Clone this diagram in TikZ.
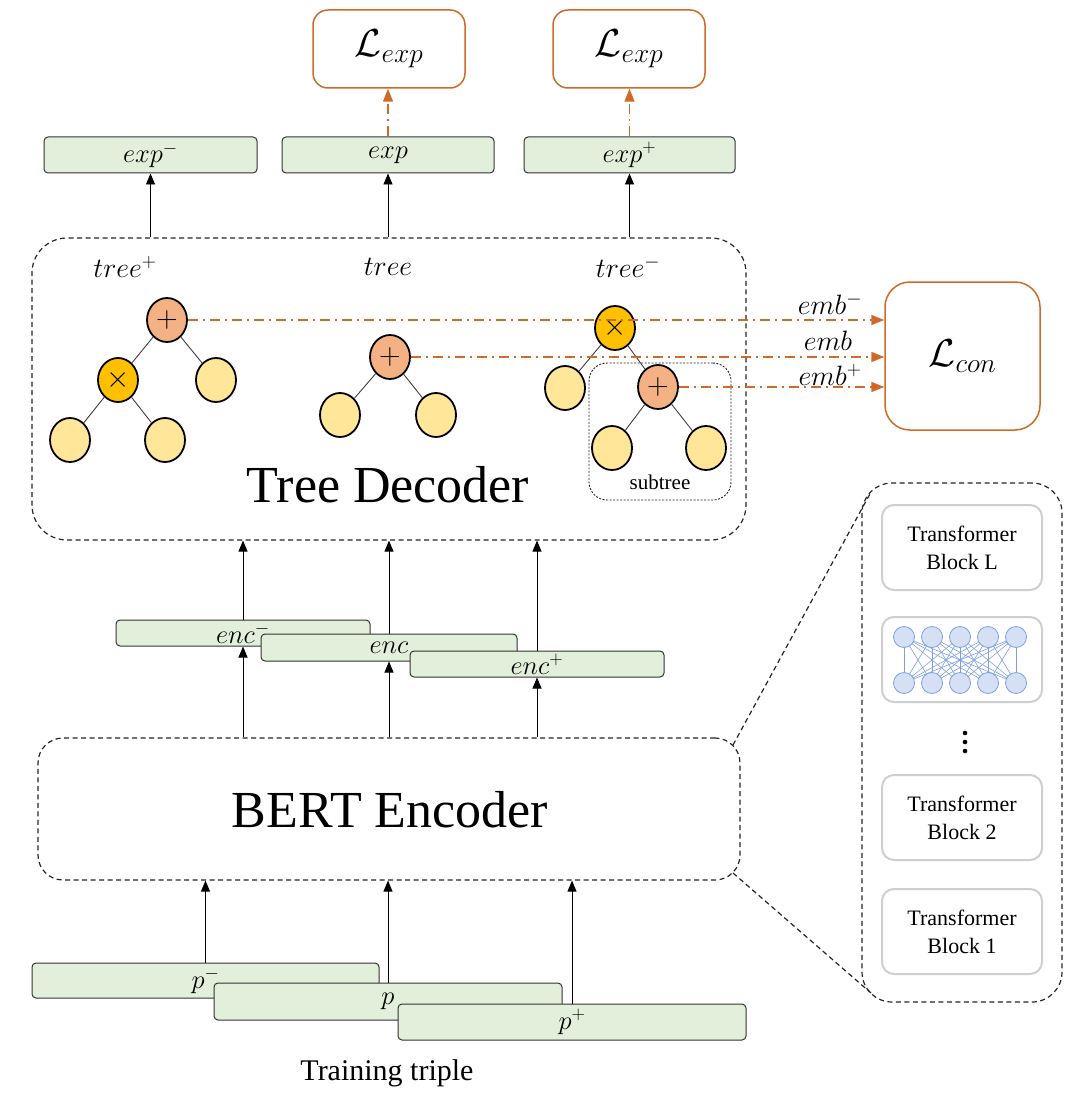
\RequirePackage{fix-cm}
\documentclass[tikz,border=0pt]{standalone}
\usepackage{fontspec}
\setmainfont{Liberation Serif}
\usetikzlibrary{shapes.geometric,arrows.meta}
\definecolor{org}{HTML}{D06A26}
\definecolor{gfill}{HTML}{E2EFDA}
\definecolor{salmon}{HTML}{F4B183}
\definecolor{gold}{HTML}{FFC000}
\definecolor{leaf}{HTML}{FFE699}
\definecolor{nnfill}{HTML}{D6E0F5}
\definecolor{nnline}{HTML}{7F9FE3}
\definecolor{blkgray}{HTML}{CFCFCF}
\begin{document}
\begin{tikzpicture}[x=1pt,y=-1pt,
  gbox/.style={draw=black!80, fill=gfill, rounded corners=4pt, line width=1pt, inner sep=0pt, font=\fontsize{26.5}{26.5}\selectfont},
  obox/.style={draw=org, fill=white, line width=1.5pt, inner sep=0pt, font=\fontsize{39}{39}\selectfont},
  dbox/.style={draw=black!85, line width=1.2pt, dash pattern=on 5pt off 3.5pt, inner sep=0pt},
  tbox/.style={draw=blkgray, fill=white, line width=2pt, rounded corners=12pt, minimum width=160pt, minimum height=85pt, inner sep=0pt, align=center, font=\fontsize{22}{28}\selectfont},
  arr/.style={-{Triangle[length=11pt,width=9pt]}, line width=0.9pt, draw=black},
  oarr/.style={draw=org, line width=1.5pt, dash pattern=on 10pt off 5pt on 2pt off 5pt, -{Triangle[length=13pt,width=10pt]}},
  mlab/.style={inner sep=0pt, font=\fontsize{28}{28}\selectfont},
  tn/.style={ellipse, draw=black, line width=1.8pt, minimum width=40pt, minimum height=44pt, inner sep=0pt, font=\fontsize{30}{30}\selectfont},
  opp/.style={tn, fill=salmon},
  opx/.style={tn, fill=gold},
  lf/.style={tn, fill=leaf},
  te/.style={draw=black!75, line width=0.9pt},
  nnc/.style={circle, draw=nnline, fill=nnfill, line width=0.8pt, minimum size=21pt, inner sep=0pt},
]
\useasboundingbox[fill=white] (0,0) rectangle (1080,1099);

% ---------- loss boxes ----------
\node[obox, rounded corners=15pt, minimum width=152pt, minimum height=78pt] (lexpa) at (389,49) {$\mathcal{L}_{exp}$};
\node[obox, rounded corners=15pt, minimum width=152pt, minimum height=78pt] (lexpb) at (629,49) {$\mathcal{L}_{exp}$};
\node[obox, rounded corners=25pt, minimum width=155pt, minimum height=148pt] (lcon) at (962.5,356) {$\mathcal{L}_{con}$};

% ---------- exp boxes ----------
\node[gbox, minimum width=213pt, minimum height=36pt] (expm) at (150.5,155) {$exp^-$};
\node[gbox, minimum width=212pt, minimum height=36pt] (expz) at (388,155) {$exp$};
\node[gbox, minimum width=211pt, minimum height=36pt] (expp) at (629.5,155) {$exp^+$};

% ---------- tree decoder ----------
\node[dbox, rounded corners=35pt, minimum width=714pt, minimum height=302pt] (td) at (389,389) {};
\node[inner sep=0pt, font=\fontsize{52}{52}\selectfont] (tdlab) at (388,485) {Tree Decoder};

\node[mlab] (tlp) at (125,267) {$tree^+$};
\node[mlab] (tlz) at (388,267) {$tree$};
\node[mlab] (tlm) at (628,267) {$tree^-$};

% subtree box
\node[draw=black!85, line width=0.9pt, dash pattern=on 2pt off 1.5pt, rounded corners=18pt, minimum width=142pt, minimum height=137pt, inner sep=0pt] (sub) at (660,431.5) {};
\node[inner sep=0pt, font=\fontsize{21}{21}\selectfont] (sublab) at (660,482) {subtree};

% tree 1
\node[opp] (a1) at (167,320) {$+$};
\node[opx] (a2) at (118,380) {$\times$};
\node[lf]  (a3) at (216,380) {};
\node[lf]  (a4) at (70,440) {};
\node[lf]  (a5) at (165,440) {};
\draw[te] (a1) -- (a2); \draw[te] (a1) -- (a3);
\draw[te] (a2) -- (a4); \draw[te] (a2) -- (a5);

% tree 2
\node[opp] (b1) at (390,357) {$+$};
\node[lf]  (b2) at (340,415) {};
\node[lf]  (b3) at (436,415) {};
\draw[te] (b1) -- (b2); \draw[te] (b1) -- (b3);

% tree 3
\node[opx] (c1) at (615,328) {$\times$};
\node[lf]  (c2) at (565,388) {};
\node[opp] (c3) at (658,387) {$+$};
\node[lf]  (c4) at (612,448) {};
\node[lf]  (c5) at (706,448) {};
\draw[te] (c1) -- (c2); \draw[te] (c1) -- (c3);
\draw[te] (c3) -- (c4); \draw[te] (c3) -- (c5);

% embedding arrows to L_con
\draw[oarr] (a1.east) -- (a1.east -| lcon.west);
\draw[oarr] (b1.east) -- (b1.east -| lcon.west);
\draw[oarr] (c3.east) -- (c3.east -| lcon.west);
\node[mlab] (em) at (830,304) {$emb^-$};
\node[mlab] (ez) at (828,341) {$emb$};
\node[mlab] (ep) at (830,375) {$emb^+$};

% decoder -> exp arrows
\draw[arr] (td.north -| expm) -- (expm.south);
\draw[arr] (td.north -| expz) -- (expz.south);
\draw[arr] (td.north -| expp) -- (expp.south);
\draw[oarr] (expz.north) -- (expz.north |- lexpa.south);
\draw[oarr] (expp.north) -- (expp.north |- lexpb.south);

% ---------- enc boxes ----------
\node[gbox, minimum width=254pt, minimum height=26pt] (encm) at (243,633) {$enc^-$};
\node[gbox, minimum width=256pt, minimum height=27pt] (encz) at (389,647.5) {$enc$};
\node[gbox, minimum width=254pt, minimum height=26pt] (encp) at (537,664) {$enc^+$};

% ---------- BERT encoder ----------
\node[dbox, rounded corners=25pt, minimum width=702pt, minimum height=142pt] (bert) at (389,809) {};
\node[inner sep=0pt, font=\fontsize{52}{52}\selectfont] (bertlab) at (390,810) {BERT Encoder};

\draw[arr] (bert.north -| encm) -- (encm.south);
\draw[arr] (bert.north -| encz) -- (encz.south);
\draw[arr] (bert.north -| encp) -- (encp.south);
\draw[arr] (encm.north) -- (encm.north |- td.south);
\draw[arr] (encz.north) -- (encz.north |- td.south);
\draw[arr] (encp.north) -- (encp.north |- td.south);

% ---------- training triple ----------
\node[gbox, minimum width=347pt, minimum height=35pt] (pm) at (205.5,980.5) {$p^-$};
\node[gbox, minimum width=348pt, minimum height=37pt] (pz) at (388,1001.5) {$p$};
\node[gbox, minimum width=348pt, minimum height=36pt] (pp) at (572,1022) {$p^+$};
\node[inner sep=0pt, font=\fontsize{30}{30}\selectfont] (trlab) at (387,1073) {Training triple};

\draw[arr] (pm.north) -- (pm.north |- bert.south);
\draw[arr] (pz.north) -- (pz.north |- bert.south);
\draw[arr] (pp.north) -- (pp.north |- bert.south);

% ---------- transformer panel ----------
\node[dbox, rounded corners=30pt, minimum width=200pt, minimum height=519pt] (panel) at (962,742.5) {};
\coordinate (bta) at (733,745);
\coordinate (btb) at (733,873);
\coordinate (pa) at (871,492);
\coordinate (pb) at (871,993);
\draw[dbox] (bta) -- (pa);
\draw[dbox] (btb) -- (pb);

\node[tbox] (bL) at (962,547.5) {Transformer\\Block L};
\node[tbox] (nn) at (962,659.5) {};
\node[tbox] (b2) at (962,817.5) {Transformer\\Block 2};
\node[tbox] (b1) at (962,931.5) {Transformer\\Block 1};

\foreach \i in {1,...,5}{
  \coordinate (t\i) at ({876+28*\i},637);
  \coordinate (u\i) at ({876+28*\i},683);
}
\foreach \i in {1,...,5}{
  \foreach \j in {1,...,5}{
    \draw[nnline, line width=0.6pt] (t\i) -- (u\j);
  }
}
\foreach \i in {1,...,5}{
  \node[nnc] (nt\i) at (t\i) {};
  \node[nnc] (nu\i) at (u\i) {};
}

\fill (965,733) circle (2.3pt);
\fill (965,742) circle (2.3pt);
\fill (965,751) circle (2.3pt);
\end{tikzpicture}
\end{document}
